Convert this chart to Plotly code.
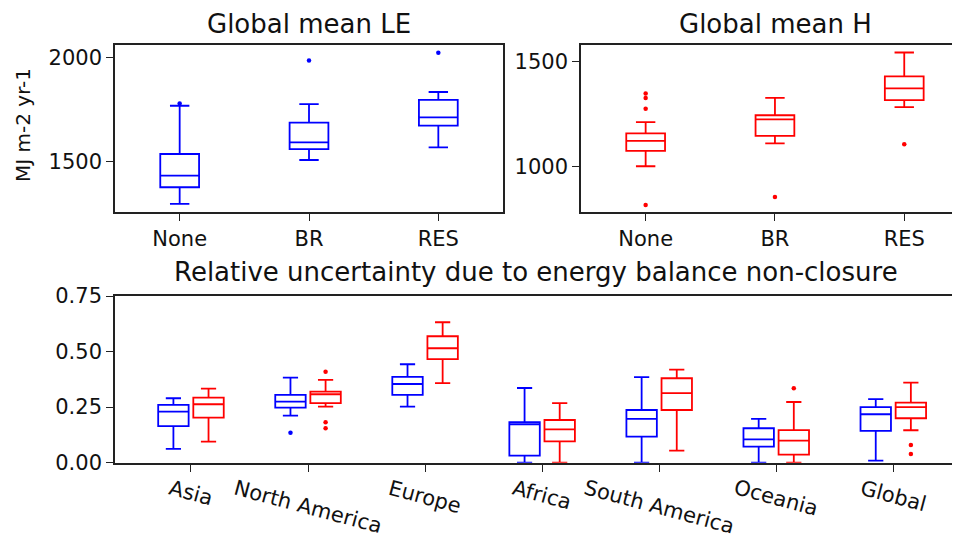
import plotly.graph_objects as go

# ---------------- data ----------------
scenarios = ["None", "BR", "RES"]

# Global mean LE (blue)
le_lowerfence = [1297, 1508, 1569]
le_q1 = [1377, 1560, 1673]
le_median = [1433, 1593, 1713]
le_q3 = [1537, 1688, 1797]
le_upperfence = [1769, 1777, 1835]
le_outlier_scen = [1, 2, 3]
le_outlier_vals = [1780, 1986, 2024]

# Global mean H (red)
h_lowerfence = [1000, 1109, 1283]
h_q1 = [1073, 1145, 1316]
h_median = [1121, 1224, 1372]
h_q3 = [1157, 1244, 1430]
h_upperfence = [1211, 1327, 1544]
h_outlier_scen = [1, 1, 1, 1, 2, 3]
h_outlier_vals = [1348, 1327, 1275, 815, 853, 1105]

# Relative uncertainty
regions = ["Asia", "North America", "Europe", "Africa", "South America", "Oceania", "Global"]

ru_le_lowerfence = [0.062, 0.212, 0.252, 0.0, 0.0, 0.0, 0.009]
ru_le_q1 = [0.165, 0.248, 0.305, 0.032, 0.117, 0.072, 0.143]
ru_le_median = [0.230, 0.275, 0.354, 0.173, 0.197, 0.105, 0.218]
ru_le_q3 = [0.260, 0.305, 0.386, 0.183, 0.237, 0.155, 0.250]
ru_le_upperfence = [0.290, 0.383, 0.443, 0.336, 0.385, 0.197, 0.286]
ru_le_outlier_region = [2]
ru_le_outlier_vals = [0.135]

ru_h_lowerfence = [0.095, 0.252, 0.358, 0.0, 0.054, 0.0, 0.146]
ru_h_q1 = [0.203, 0.268, 0.466, 0.096, 0.237, 0.036, 0.200]
ru_h_median = [0.263, 0.308, 0.515, 0.150, 0.313, 0.099, 0.250]
ru_h_q3 = [0.293, 0.320, 0.569, 0.192, 0.380, 0.147, 0.270]
ru_h_upperfence = [0.333, 0.373, 0.632, 0.268, 0.419, 0.273, 0.360]
ru_h_outlier_region = [2, 2, 2, 6, 7, 7]
ru_h_outlier_vals = [0.409, 0.182, 0.155, 0.335, 0.080, 0.039]

# ---------------- styling ----------------
BLUE = "#0000ff"
RED = "#ff0000"
AX = "#222222"
FONT = "DejaVu Sans"
TICKFONT = dict(family=FONT, size=21, color="#111111")
TITLEFONT = dict(family=FONT, size=26, color="#111111")
OFFSET = 0.15

fig = go.Figure()

def add_boxes(xs, q1, med, q3, lo, hi, color, width, xa, ya):
    fig.add_trace(go.Box(
        x=xs, q1=q1, median=med, q3=q3, lowerfence=lo, upperfence=hi,
        width=width, whiskerwidth=0.5, boxpoints=False,
        line=dict(color=color, width=1.8), fillcolor="rgba(0,0,0,0)",
        xaxis=xa, yaxis=ya, showlegend=False))

def add_outliers(xs, ys, color, xa, ya):
    fig.add_trace(go.Scatter(
        x=xs, y=ys, mode="markers", marker=dict(color=color, size=4.5),
        xaxis=xa, yaxis=ya, showlegend=False, cliponaxis=True))

pos = [1, 2, 3]
add_boxes(pos, le_q1, le_median, le_q3, le_lowerfence, le_upperfence, BLUE, 0.3, "x", "y")
add_outliers(le_outlier_scen, le_outlier_vals, BLUE, "x", "y")

add_boxes(pos, h_q1, h_median, h_q3, h_lowerfence, h_upperfence, RED, 0.3, "x2", "y2")
add_outliers(h_outlier_scen, h_outlier_vals, RED, "x2", "y2")

rpos = list(range(1, len(regions) + 1))
add_boxes([p - OFFSET for p in rpos], ru_le_q1, ru_le_median, ru_le_q3,
          ru_le_lowerfence, ru_le_upperfence, BLUE, 0.26, "x3", "y3")
add_outliers([p - OFFSET for p in ru_le_outlier_region], ru_le_outlier_vals, BLUE, "x3", "y3")
add_boxes([p + OFFSET for p in rpos], ru_h_q1, ru_h_median, ru_h_q3,
          ru_h_lowerfence, ru_h_upperfence, RED, 0.26, "x3", "y3")
add_outliers([p + OFFSET for p in ru_h_outlier_region], ru_h_outlier_vals, RED, "x3", "y3")

W, H = 960, 534
PAGE_OFF = 8  # page body margin: figure starts 8px from the window corner
RIGHT_SCREEN = W + PAGE_OFF

def px_x(p):
    return (p - PAGE_OFF) / W
def px_y(p):
    return 1 - (p - PAGE_OFF) / H

axis_common = dict(showline=True, linecolor=AX, linewidth=1.6, ticks="outside",
                   ticklen=7, tickwidth=1.4, tickcolor=AX, showgrid=False,
                   zeroline=False, tickfont=TICKFONT, automargin=False)

fig.update_layout(
    width=W, height=H, margin=dict(l=0, r=0, t=0, b=0, pad=0),
    paper_bgcolor="white", plot_bgcolor="white",
    font=dict(family=FONT, color="#111111"),
    boxmode="overlay",
    xaxis=dict(domain=[px_x(115), px_x(503)], range=[0.5, 3.5], anchor="y",
               tickvals=pos, ticktext=scenarios, mirror=True, **axis_common),
    yaxis=dict(domain=[px_y(212), px_y(45)], range=[1258, 2061], anchor="x",
               tickvals=[1500, 2000], mirror=True, **axis_common),
    xaxis2=dict(domain=[px_x(581), 1.0], range=[0.5, 0.5 + (RIGHT_SCREEN - 581) / 129.3],
                anchor="y2", tickvals=pos, ticktext=scenarios, mirror=True, **axis_common),
    yaxis2=dict(domain=[px_y(212), px_y(45)], range=[781, 1580], anchor="x2",
                tickvals=[1000, 1500], mirror=False, **axis_common),
    xaxis3=dict(domain=[px_x(115), 1.0], range=[0.351, 1 + (RIGHT_SCREEN - 191) / 117.05],
                anchor="y3", tickvals=rpos, showticklabels=False, mirror=True, **axis_common),
    yaxis3=dict(domain=[px_y(462.7), px_y(296)], range=[0, 0.75], anchor="x3",
                tickvals=[0, 0.25, 0.5, 0.75], tickformat=".2f", mirror=False, **axis_common),
)

annotations = [
    dict(text="Global mean LE", x=px_x(309), y=px_y(24), xref="paper", yref="paper",
         xanchor="center", yanchor="middle", showarrow=False, font=TITLEFONT),
    dict(text="Global mean H", x=px_x(775), y=px_y(24), xref="paper", yref="paper",
         xanchor="center", yanchor="middle", showarrow=False, font=TITLEFONT),
    dict(text="Relative uncertainty due to energy balance non-closure", x=px_x(536), y=px_y(272),
         xref="paper", yref="paper", xanchor="center", yanchor="middle", showarrow=False,
         font=TITLEFONT),
    dict(text="MJ m-2 yr-1", x=px_x(23), y=px_y(125), xref="paper", yref="paper",
         xanchor="center", yanchor="middle", textangle=-90, showarrow=False,
         font=dict(family=FONT, size=20, color="#111111")),
]
for i, name in enumerate(regions):
    annotations.append(dict(
        text=name, x=rpos[i], y=px_y(473), xref="x3", yref="paper",
        xanchor="center", yanchor="top", textangle=15, showarrow=False,
        font=dict(family=FONT, size=21, color="#111111")))
fig.update_layout(annotations=annotations)

fig.write_html("out.html")
